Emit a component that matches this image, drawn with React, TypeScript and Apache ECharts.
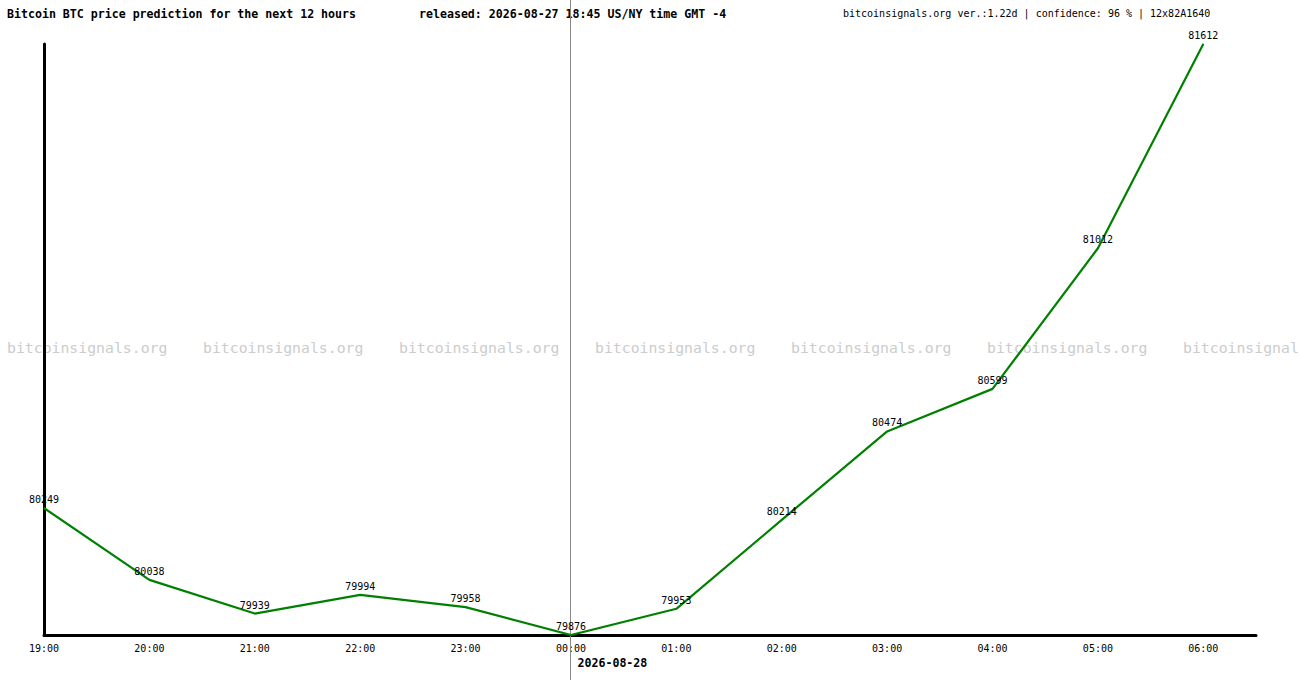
import React, { useEffect, useRef } from "react";
import * as echarts from "echarts";

const hours = ["19:00", "20:00", "21:00", "22:00", "23:00", "00:00", "01:00", "02:00", "03:00", "04:00", "05:00", "06:00"];
const prices = [80249, 80038, 79939, 79994, 79958, 79876, 79953, 80214, 80474, 80599, 81012, 81612];
const titleLeft = "Bitcoin BTC price prediction for the next 12 hours";
const titleMid = "released: 2026-08-27 18:45 US/NY time GMT -4";
const titleRight = "bitcoinsignals.org ver.:1.22d | confidence: 96 % | 12x82A1640";
const dateLabel = "2026-08-28";
const watermark = "bitcoinsignals.org";
const dayBreakIndex = 5;

const MONO = "'DejaVu Sans Mono', 'Liberation Mono', monospace";
const W = 1300;
const WM_SIZE = 14.8;
const WM_CHAR = WM_SIZE * 0.602;

export default function App() {
  const ref = useRef<HTMLDivElement>(null);
  useEffect(() => {
    if (!ref.current) return;
    const chart = echarts.init(ref.current, null, { renderer: "svg" });
    const yMin = Math.min(...prices);
    const yMax = Math.max(...prices);
    const wm: any[] = [];
    for (let i = 0; i < 7; i++) {
      const x = 7 + i * 196;
      const fit = Math.floor((W - x) / WM_CHAR);
      wm.push({
        type: "text",
        left: x,
        top: 340,
        z: -10,
        silent: true,
        style: { text: watermark.slice(0, fit), font: `${WM_SIZE}px ${MONO}`, fill: "#cccccc" },
      });
    }
    const titles = [
      {
        type: "text",
        left: 7,
        top: 8,
        style: { text: titleLeft, font: `bold 11.6px ${MONO}`, fill: "#000" },
      },
      {
        type: "text",
        left: 419,
        top: 8,
        style: { text: titleMid, font: `bold 11.6px ${MONO}`, fill: "#000" },
      },
      {
        type: "text",
        left: 843,
        top: 8,
        style: { text: titleRight, font: `10px ${MONO}`, fill: "#000" },
      },
    ];
    chart.setOption({
      animation: false,
      backgroundColor: "#ffffff",
      grid: { left: 44, right: 44, top: 44, bottom: 45, containLabel: false },
      xAxis: {
        type: "value",
        min: 0,
        max: hours.length - 0.5,
        interval: 1,
        axisLine: { show: true, onZero: false, lineStyle: { color: "#000", width: 3 } },
        axisTick: { show: false },
        splitLine: { show: false },
        axisLabel: {
          show: true,
          margin: 8,
          color: "#000",
          fontFamily: MONO,
          fontSize: 10,
          showMinLabel: true,
          showMaxLabel: true,
          formatter: (v: number) => (Number.isInteger(v) && hours[v] ? hours[v] : ""),
        },
      },
      yAxis: {
        type: "value",
        min: yMin,
        max: yMax,
        axisLine: { show: true, lineStyle: { color: "#000", width: 3 } },
        axisTick: { show: false },
        axisLabel: { show: false },
        splitLine: { show: false },
      },
      series: [
        {
          type: "line",
          data: prices.map((p, i) => [i, p]),
          symbol: "circle",
          symbolSize: 1,
          itemStyle: { color: "#008000" },
          lineStyle: { color: "#008000", width: 2.2 },
          label: {
            show: true,
            position: "top",
            distance: 3,
            color: "#000",
            fontFamily: MONO,
            fontSize: 10,
            formatter: (p: any) => String(p.value[1]),
          },
          z: 3,
        },
      ],
      graphic: [...wm, ...titles],
    });
    const px = chart.convertToPixel({ gridIndex: 0 }, [dayBreakIndex, yMin]) as number[];
    const lineX = Math.round(px[0]) - 0.5;
    chart.setOption({
      graphic: [
        ...wm,
        ...titles,
        {
          type: "line",
          z: 1,
          shape: { x1: lineX, y1: 0, x2: lineX, y2: 680 },
          style: { stroke: "#888888", lineWidth: 1 },
        },
        {
          type: "text",
          x: lineX + 7,
          y: 657,
          style: { text: dateLabel, font: `bold 11.6px ${MONO}`, fill: "#000" },
        },
      ],
    });
    return () => chart.dispose();
  }, []);
  return (
    <div
      ref={ref}
      style={{ position: "fixed", left: 0, top: 0, width: 1300, height: 680, background: "#fff" }}
    />
  );
}
